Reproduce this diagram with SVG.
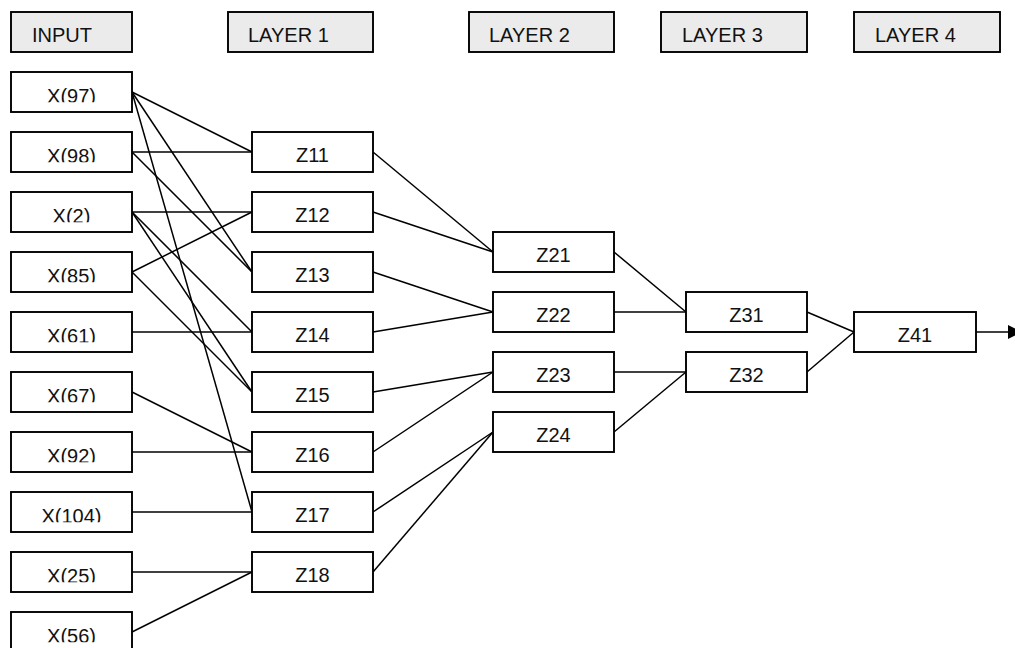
<svg xmlns="http://www.w3.org/2000/svg" width="1015" height="648" viewBox="0 0 1015 648">
<style>
.box{fill:#ffffff;stroke:#000000;stroke-width:1.9}
.hdr{fill:#ebebeb;stroke:#000000;stroke-width:1.9}
.t{font-family:"Liberation Sans",Arial,sans-serif;font-size:20px;fill:#111111;text-anchor:middle}
.ht{font-family:"Liberation Sans",Arial,sans-serif;font-size:20px;fill:#111111}
#connectors line{stroke:#000000;stroke-width:1.5;fill:none}
</style>
<defs>
<clipPath id="clipT" clipPathUnits="userSpaceOnUse"><rect x="0" y="0" width="122" height="30.3"/></clipPath>
<marker id="arr" markerWidth="14" markerHeight="14" refX="0" refY="7" orient="auto" markerUnits="userSpaceOnUse">
<path d="M0,0 L14,7 L0,14 Z" fill="#000000"/>
</marker>
</defs>
<rect width="1015" height="648" fill="#ffffff"/>

<g id="headers">
<g id="h-input" transform="translate(11,12)"><rect class="hdr" width="121" height="40"/><text class="ht" x="21" y="30">INPUT</text></g>
<g id="h-layer1" transform="translate(228,12)"><rect class="hdr" width="145" height="40"/><text class="ht" x="20" y="30">LAYER 1</text></g>
<g id="h-layer2" transform="translate(469,12)"><rect class="hdr" width="145" height="40"/><text class="ht" x="20" y="30">LAYER 2</text></g>
<g id="h-layer3" transform="translate(661,12)"><rect class="hdr" width="146" height="40"/><text class="ht" x="21" y="30">LAYER 3</text></g>
<g id="h-layer4" transform="translate(854,12)"><rect class="hdr" width="146" height="40"/><text class="ht" x="21" y="30">LAYER 4</text></g>
</g>

<g id="connectors">
<line x1="132" y1="92" x2="252" y2="152"/>
<line x1="132" y1="92" x2="252" y2="272"/>
<line x1="132" y1="92" x2="252" y2="512"/>
<line x1="132" y1="152" x2="252" y2="152"/>
<line x1="132" y1="152" x2="252" y2="272"/>
<line x1="132" y1="212" x2="252" y2="212"/>
<line x1="132" y1="212" x2="252" y2="332"/>
<line x1="132" y1="212" x2="252" y2="392"/>
<line x1="132" y1="272" x2="252" y2="212"/>
<line x1="132" y1="272" x2="252" y2="392"/>
<line x1="132" y1="332" x2="252" y2="332"/>
<line x1="132" y1="392" x2="252" y2="452"/>
<line x1="132" y1="452" x2="252" y2="452"/>
<line x1="132" y1="512" x2="252" y2="512"/>
<line x1="132" y1="572" x2="252" y2="572"/>
<line x1="132" y1="632" x2="252" y2="572"/>
<line x1="373" y1="152" x2="493" y2="252"/>
<line x1="373" y1="212" x2="493" y2="252"/>
<line x1="373" y1="272" x2="493" y2="312"/>
<line x1="373" y1="332" x2="493" y2="312"/>
<line x1="373" y1="392" x2="493" y2="372"/>
<line x1="373" y1="452" x2="493" y2="372"/>
<line x1="373" y1="512" x2="493" y2="432"/>
<line x1="373" y1="572" x2="493" y2="432"/>
<line x1="614" y1="252" x2="686" y2="312"/>
<line x1="614" y1="312" x2="686" y2="312"/>
<line x1="614" y1="372" x2="686" y2="372"/>
<line x1="614" y1="432" x2="686" y2="372"/>
<line x1="807" y1="312" x2="854" y2="332"/>
<line x1="807" y1="372" x2="854" y2="332"/>
<line x1="976" y1="332" x2="1008" y2="332" marker-end="url(#arr)"/>
</g>

<g id="x97" transform="translate(11,72)"><rect class="box" width="121" height="40"/><text class="t" x="60.5" y="30.8" clip-path="url(#clipT)">X(97)</text></g>
<g id="x98" transform="translate(11,132)"><rect class="box" width="121" height="40"/><text class="t" x="60.5" y="30.8" clip-path="url(#clipT)">X(98)</text></g>
<g id="x2" transform="translate(11,192)"><rect class="box" width="121" height="40"/><text class="t" x="60.5" y="30.8" clip-path="url(#clipT)">X(2)</text></g>
<g id="x85" transform="translate(11,252)"><rect class="box" width="121" height="40"/><text class="t" x="60.5" y="30.8" clip-path="url(#clipT)">X(85)</text></g>
<g id="x61" transform="translate(11,312)"><rect class="box" width="121" height="40"/><text class="t" x="60.5" y="30.8" clip-path="url(#clipT)">X(61)</text></g>
<g id="x67" transform="translate(11,372)"><rect class="box" width="121" height="40"/><text class="t" x="60.5" y="30.8" clip-path="url(#clipT)">X(67)</text></g>
<g id="x92" transform="translate(11,432)"><rect class="box" width="121" height="40"/><text class="t" x="60.5" y="30.8" clip-path="url(#clipT)">X(92)</text></g>
<g id="x104" transform="translate(11,492)"><rect class="box" width="121" height="40"/><text class="t" x="60.5" y="30.8" clip-path="url(#clipT)">X(104)</text></g>
<g id="x25" transform="translate(11,552)"><rect class="box" width="121" height="40"/><text class="t" x="60.5" y="30.8" clip-path="url(#clipT)">X(25)</text></g>
<g id="x56" transform="translate(11,612)"><rect class="box" width="121" height="40"/><text class="t" x="60.5" y="30.8" clip-path="url(#clipT)">X(56)</text></g>

<g id="z11" transform="translate(252,132)"><rect class="box" width="121" height="40"/><text class="t" x="60.5" y="30">Z11</text></g>
<g id="z12" transform="translate(252,192)"><rect class="box" width="121" height="40"/><text class="t" x="60.5" y="30">Z12</text></g>
<g id="z13" transform="translate(252,252)"><rect class="box" width="121" height="40"/><text class="t" x="60.5" y="30">Z13</text></g>
<g id="z14" transform="translate(252,312)"><rect class="box" width="121" height="40"/><text class="t" x="60.5" y="30">Z14</text></g>
<g id="z15" transform="translate(252,372)"><rect class="box" width="121" height="40"/><text class="t" x="60.5" y="30">Z15</text></g>
<g id="z16" transform="translate(252,432)"><rect class="box" width="121" height="40"/><text class="t" x="60.5" y="30">Z16</text></g>
<g id="z17" transform="translate(252,492)"><rect class="box" width="121" height="40"/><text class="t" x="60.5" y="30">Z17</text></g>
<g id="z18" transform="translate(252,552)"><rect class="box" width="121" height="40"/><text class="t" x="60.5" y="30">Z18</text></g>

<g id="z21" transform="translate(493,232)"><rect class="box" width="121" height="40"/><text class="t" x="60.5" y="30">Z21</text></g>
<g id="z22" transform="translate(493,292)"><rect class="box" width="121" height="40"/><text class="t" x="60.5" y="30">Z22</text></g>
<g id="z23" transform="translate(493,352)"><rect class="box" width="121" height="40"/><text class="t" x="60.5" y="30">Z23</text></g>
<g id="z24" transform="translate(493,412)"><rect class="box" width="121" height="40"/><text class="t" x="60.5" y="30">Z24</text></g>

<g id="z31" transform="translate(686,292)"><rect class="box" width="121" height="40"/><text class="t" x="60.5" y="30">Z31</text></g>
<g id="z32" transform="translate(686,352)"><rect class="box" width="121" height="40"/><text class="t" x="60.5" y="30">Z32</text></g>

<g id="z41" transform="translate(854,312)"><rect class="box" width="122" height="40"/><text class="t" x="61" y="30">Z41</text></g>
</svg>
